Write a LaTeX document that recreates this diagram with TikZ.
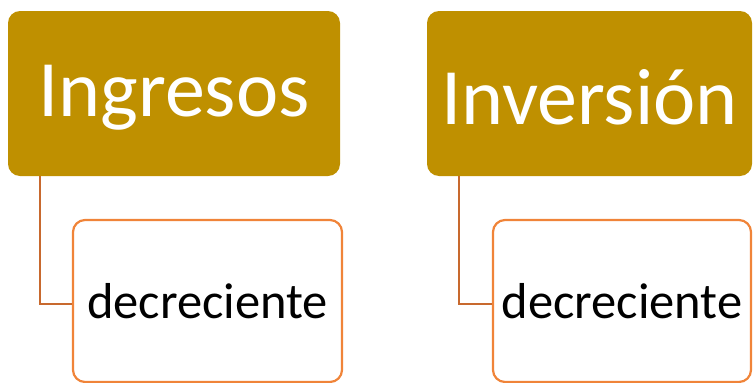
\documentclass[tikz,border=0pt]{standalone}
\usepackage{fontspec}
\setmainfont{Carlito}
\definecolor{gold}{HTML}{BF9000}
\definecolor{orangeline}{HTML}{F08439}
\definecolor{connline}{HTML}{C8692E}
\begin{document}
\begin{tikzpicture}[x=1pt,y=-1pt,
  parentbox/.style={fill=gold, rounded corners=12pt, inner sep=0pt},
  parenttext/.style={text=white, inner sep=0pt, font=\fontsize{80}{82}\selectfont},
  childbox/.style={draw=orangeline, line width=2.2pt, fill=white, rounded corners=12pt, inner sep=0pt},
  childtext/.style={text=black, inner sep=0pt, font=\fontsize{50.5}{52}\selectfont},
  conn/.style={draw=connline, line width=2pt}]
\useasboundingbox (0,0) rectangle (753,383);
\node[parentbox, minimum width=332pt, minimum height=165pt] (p1) at (174,93.5) {};
\node[parentbox, minimum width=325pt, minimum height=165pt] (p2) at (589.5,93.5) {};
\node[parenttext] (t1) at ([yshift=-4pt]p1.center) {Ingresos};
\node[parenttext] (t2) at ([yshift=-4pt]p2.center) {Inversión};
\node[childbox, minimum width=269pt, minimum height=162pt] (c1) at (207.5,301) {};
\node[childbox, minimum width=258pt, minimum height=162pt] (c2) at (622,301) {};
\node[childtext] (d1) at ([yshift=0pt]c1.center) {decreciente};
\node[childtext] (d2) at ([yshift=0pt]c2.center) {decreciente};
\draw[conn] ([xshift=32pt]p1.south west) |- ([yshift=-3pt]c1.west);
\draw[conn] ([xshift=32pt]p2.south west) |- ([yshift=-3pt]c2.west);
\end{tikzpicture}
\end{document}
